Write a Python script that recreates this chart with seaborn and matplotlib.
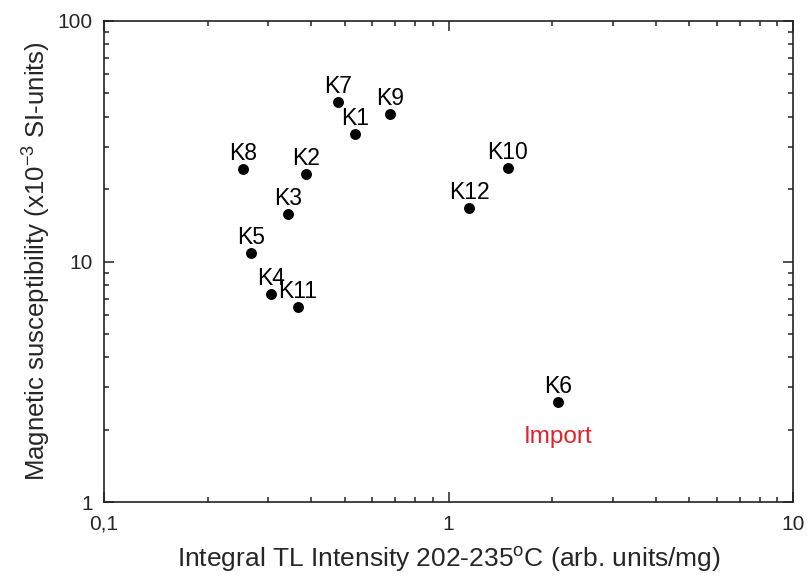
import matplotlib
matplotlib.use("Agg")
import matplotlib.pyplot as plt
from matplotlib.ticker import LogLocator, NullFormatter
import seaborn as sns
import pandas as pd

# Sample data: integral TL intensity vs magnetic susceptibility
samples = ["K1", "K2", "K3", "K4", "K5", "K6", "K7", "K8", "K9", "K10", "K11", "K12"]
tl_intensity = [0.535, 0.385, 0.342, 0.305, 0.267, 2.08, 0.479, 0.254, 0.675, 1.485, 0.366, 1.149]
susceptibility = [33.9, 23.1, 15.8, 7.32, 10.8, 2.61, 45.9, 24.2, 41.2, 24.5, 6.47, 16.7]

x_ticks = [0.1, 1, 10]
x_tick_labels = ["0,1", "1", "10"]
y_ticks = [1, 10, 100]
y_tick_labels = ["1", "10", "100"]

import_sample = "K6"
import_label = "Import"

df = pd.DataFrame({"sample": samples, "tl": tl_intensity, "chi": susceptibility})

sns.set_style("ticks")
plt.rcParams["font.family"] = ["Liberation Sans", "DejaVu Sans"]
plt.rcParams["mathtext.fontset"] = "custom"
plt.rcParams["mathtext.rm"] = "Liberation Sans"
plt.rcParams["mathtext.it"] = "Liberation Sans:italic"
plt.rcParams["mathtext.bf"] = "Liberation Sans:bold"

fig = plt.figure(figsize=(8.08, 5.84), dpi=100)
ax = fig.add_axes([104 / 808, 1 - 502 / 584, 689 / 808, 481 / 584])

sns.scatterplot(data=df, x="tl", y="chi", ax=ax, color="black", s=62,
                edgecolor="black", linewidth=0, legend=False, zorder=3)

ax.set_xscale("log")
ax.set_yscale("log")
ax.set_xlim(0.1, 10)
ax.set_ylim(1, 100)

ax.set_xticks(x_ticks)
ax.set_xticklabels(x_tick_labels)
ax.set_yticks(y_ticks)
ax.set_yticklabels(y_tick_labels)
ax.xaxis.set_minor_locator(LogLocator(base=10, subs=range(2, 10)))
ax.yaxis.set_minor_locator(LogLocator(base=10, subs=range(2, 10)))
ax.xaxis.set_minor_formatter(NullFormatter())
ax.yaxis.set_minor_formatter(NullFormatter())

for side in ["top", "right", "bottom", "left"]:
    ax.spines[side].set_visible(True)
    ax.spines[side].set_linewidth(1.2)
    ax.spines[side].set_color("#222222")

ax.tick_params(which="both", direction="in", top=True, right=True,
               width=1.1, color="#222222")
ax.tick_params(which="major", length=7)
ax.tick_params(which="minor", length=3.6)
ax.tick_params(axis="x", which="major", labelsize=15, pad=9)
ax.tick_params(axis="y", which="major", labelsize=15, pad=8)

for name, x, y in zip(samples, tl_intensity, susceptibility):
    ax.annotate(name, (x, y), xytext=(0, 6.5), textcoords="offset points",
                ha="center", va="baseline", fontsize=16.5, color="black")

idx = samples.index(import_sample)
ax.annotate(import_label, (tl_intensity[idx], susceptibility[idx]),
            xytext=(0, -25), textcoords="offset points",
            ha="center", va="center", fontsize=17.5, color="#e3222b")

ax.set_xlabel("Integral TL Intensity 202-235$^{\\rm o}$C (arb. units/mg)", fontsize=19)
ax.set_ylabel("Magnetic susceptibility (x10$^{-3}$ SI-units)", fontsize=18.5)
ax.xaxis.set_label_coords(0.5, (502 - 560) / 481)
ax.xaxis.label.set_va("center")
ax.yaxis.set_label_coords((37 - 104) / 689, 0.5)
ax.yaxis.label.set_va("center")

fig.savefig("out.png", dpi=100, facecolor="white")
